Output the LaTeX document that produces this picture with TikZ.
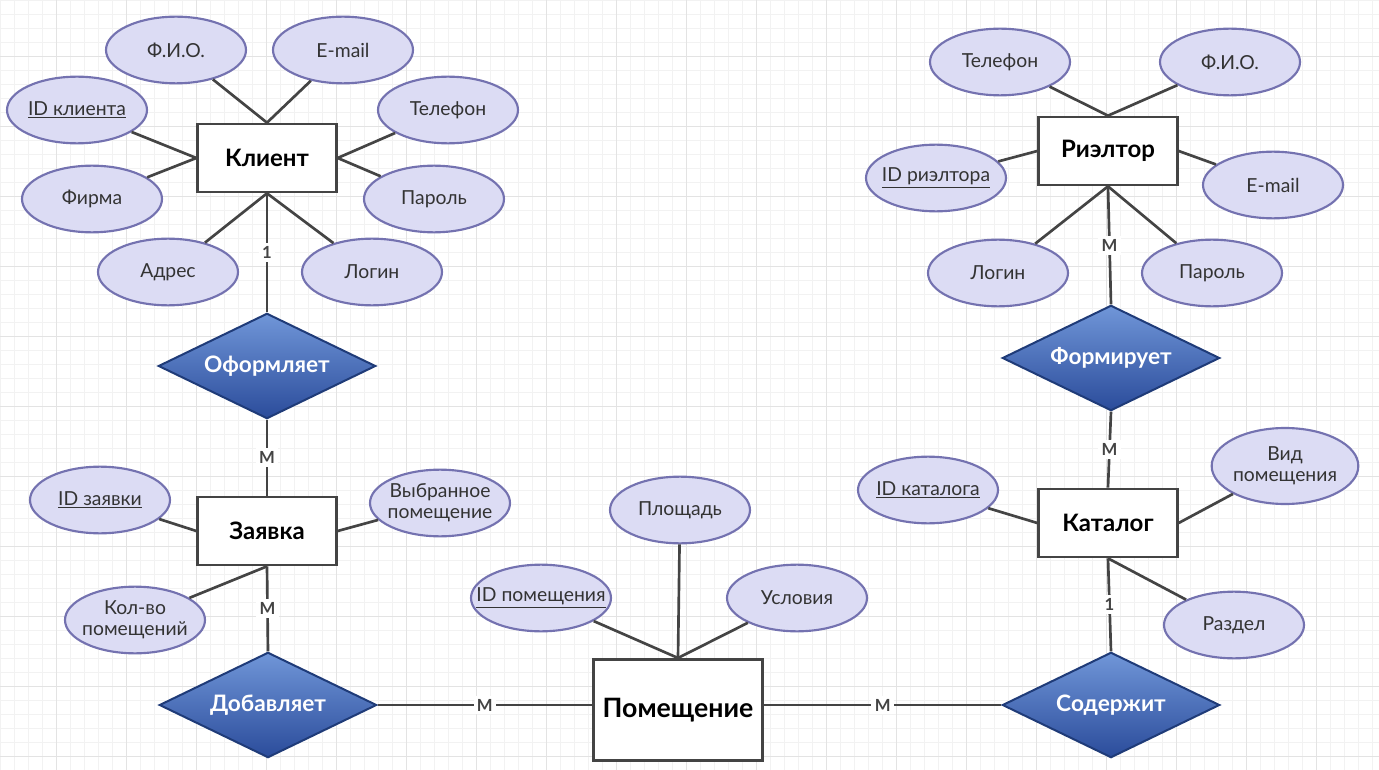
\documentclass[tikz,border=0pt]{standalone}
\usepackage{fontspec}
\setmainfont{Lato}
\usetikzlibrary{shapes.geometric}

\definecolor{attrfill}{HTML}{DCDCF4}
\definecolor{attrdraw}{HTML}{7472B0}
\definecolor{linegray}{HTML}{444444}
\definecolor{reltop}{HTML}{7096D8}
\definecolor{relbot}{HTML}{2B4C9B}
\definecolor{reldraw}{HTML}{1F3B78}

\begin{document}
\begin{tikzpicture}[x=0.75pt, y=-0.75pt,
attr/.style={ellipse, draw=attrdraw, fill=attrfill, line width=1.6pt,
             minimum width=105pt, minimum height=50pt, inner xsep=-12pt, inner ysep=0pt,
             align=center, font=\fontsize{14.5}{16}\selectfont, text=black!80},
entity/.style={draw=linegray, fill=white, line width=2pt,
               minimum width=104pt, minimum height=51pt,
               font=\fontsize{18}{20}\selectfont\bfseries},
relation/.style={diamond, draw=reldraw, line width=1.5pt,
                 top color=reltop, bottom color=relbot,
                 minimum width=163pt, minimum height=79pt, inner sep=0pt,
                 aspect=2, text=white, font=\fontsize{17}{20}\selectfont\bfseries},
card/.style={fill=white, inner sep=2.5pt, font=\fontsize{12.5}{14}\selectfont\bfseries,
             text=linegray},
link/.style={draw=linegray, line width=2pt},
gridminor/.style={draw=black!5, line width=0.5pt},
gridmajor/.style={draw=black!11, line width=0.6pt}
]
\useasboundingbox (0,0) rectangle (1379,770);
\fill[white] (0,0) rectangle (1379,770);

% background grid
\foreach \gx in {0,14,...,1379} \draw[gridminor] (\gx,0) -- (\gx,770);
\foreach \gy in {0,14,...,770} \draw[gridminor] (0,\gy) -- (1379,\gy);
\foreach \gx in {56,126,...,1379} \draw[gridmajor] (\gx,0) -- (\gx,770);
\foreach \gy in {56,126,...,770} \draw[gridmajor] (0,\gy) -- (1379,\gy);

% Клиент
\node[entity] (klient) at (267,158) {Клиент};
\node[attr] (kfio) at (176,50) {Ф.И.О.};
\node[attr] (kmail) at (343,50) {E-mail};
\node[attr] (kid) at (77,110) {\underline{ID клиента}};
\node[attr] (ktel) at (448,110) {Телефон};
\node[attr] (kfirm) at (92,199) {Фирма};
\node[attr] (kpass) at (434,199) {Пароль};
\node[attr] (kaddr) at (168,272) {Адрес};
\node[attr] (klogin) at (372,272) {Логин};

\draw[link] (kfio) -- (klient.north);
\draw[link] (kmail) -- (klient.north);
\draw[link] (kid) -- (klient.west);
\draw[link] (kfirm) -- (klient.west);
\draw[link] (ktel) -- (klient.east);
\draw[link] (kpass) -- (klient.east);
\draw[link] (kaddr) -- (klient.south);
\draw[link] (klogin) -- (klient.south);

% Оформляет, Заявка, Добавляет
\node[relation] (oform) at (267,366) {Оформляет};
\node[entity] (zayavka) at (267,531) {Заявка};
\node[attr] (zid) at (100,500) {\underline{ID заявки}};
\node[attr] (zsel) at (440,503) {Выбранное\\помещение};
\node[attr] (zcount) at (135,620) {Кол-во\\помещений};
\node[relation] (dobav) at (268,705) {Добавляет};

\draw[link] (zid) -- (zayavka.west);
\draw[link] (zsel) -- (zayavka.east);
\draw[link] (zcount) -- (zayavka.south);

\draw[link] (klient.south) -- node[card] {1} (oform.north);
\draw[link] (oform.south) -- node[card] {M} (zayavka.north);
\draw[link] (zayavka.south) -- node[card] {M} (dobav.north);

% Помещение
\node[entity, minimum width=127pt, minimum height=76pt,
      font=\fontsize{20}{24}\selectfont\bfseries] (pomesh) at (678,710) {Помещение};
\node[attr] (pid) at (541,598) {\underline{ID помещения}};
\node[attr] (parea) at (680,510) {Площадь};
\node[attr] (pcond) at (797,598) {Условия};

\draw[link] (pid) -- (pomesh.north);
\draw[link] (parea) -- (pomesh.north);
\draw[link] (pcond) -- (pomesh.north);

% Риэлтор
\node[entity] (rieltor) at (1108,151) {Риэлтор};
\node[attr] (rtel) at (1000,62) {Телефон};
\node[attr] (rfio) at (1230,62) {Ф.И.О.};
\node[attr] (rid) at (936,178) {\underline{ID риэлтора}};
\node[attr] (rmail) at (1273,185) {E-mail};
\node[attr] (rlogin) at (998,273) {Логин};
\node[attr] (rpass) at (1212,273) {Пароль};

\draw[link] (rtel) -- (rieltor.north);
\draw[link] (rfio) -- (rieltor.north);
\draw[link] (rid) -- (rieltor.west);
\draw[link] (rmail) -- (rieltor.east);
\draw[link] (rlogin) -- (rieltor.south);
\draw[link] (rpass) -- (rieltor.south);

% Формирует, Каталог, Содержит
\node[relation] (form) at (1111,358) {Формирует};
\node[entity] (katalog) at (1108,523) {Каталог};
\node[attr] (cid) at (928,490) {\underline{ID каталога}};
\node[attr, minimum width=110pt, minimum height=57pt] (ckind) at (1285,466) {Вид\\помещения};
\node[attr] (csect) at (1234,625) {Раздел};
\node[relation] (soder) at (1111,705) {Содержит};

\draw[link] (cid) -- (katalog.west);
\draw[link] (ckind) -- (katalog.east);
\draw[link] (csect) -- (katalog.south);

\draw[link] (rieltor.south) -- node[card] {M} (form.north);
\draw[link] (form.south) -- node[card] {M} (katalog.north);
\draw[link] (katalog.south) -- node[card] {1} (soder.north);

% связи с Помещением
\draw[link] (dobav.east) -- node[card] {M} (dobav.east -| pomesh.west);
\draw[link] (soder.west -| pomesh.east) -- node[card] {M} (soder.west);
\end{tikzpicture}
\end{document}
